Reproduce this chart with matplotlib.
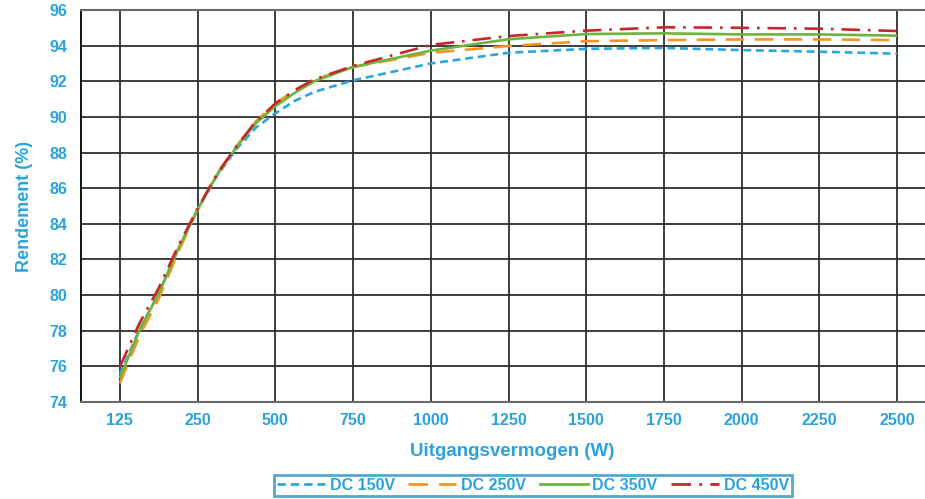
import matplotlib
matplotlib.use("Agg")
import matplotlib.pyplot as plt
from matplotlib.lines import Line2D

# ---- data ----
tick_labels = ["125", "250", "500", "750", "1000", "1250", "1500", "1750", "2000", "2250", "2500"]
# positions along the categorical axis (index units) where values were read
x_pos = [0, 0.25, 0.5, 0.75, 1, 1.25, 1.5, 1.75, 2, 2.25, 2.5, 3, 4, 5, 6, 7, 8, 9, 10]

dc150 = [75.55, 78.05, 80.1, 82.55, 84.8, 86.7, 88.2, 89.4, 90.2, 90.9, 91.4, 92.05, 93.0, 93.6, 93.82, 93.87, 93.75, 93.66, 93.55]
dc250 = [75.05, 77.7, 79.8, 82.4, 84.8, 86.8, 88.35, 89.75, 90.75, 91.5, 92.1, 92.8, 93.6, 93.98, 94.25, 94.31, 94.35, 94.35, 94.31]
dc350 = [75.35, 78.0, 80.1, 82.6, 84.8, 86.75, 88.3, 89.65, 90.6, 91.35, 92.0, 92.8, 93.72, 94.36, 94.65, 94.69, 94.63, 94.63, 94.56]
dc450 = [75.98, 78.4, 80.4, 82.75, 84.85, 86.8, 88.35, 89.75, 90.75, 91.5, 92.1, 92.86, 94.04, 94.54, 94.84, 95.03, 95.0, 94.95, 94.82]

series_names = ["DC 150V", "DC 250V", "DC 350V", "DC 450V"]
y_ticks = [74, 76, 78, 80, 82, 84, 86, 88, 90, 92, 94, 96]

# ---- styling ----
TXT = "#2aa3dc"
colors = ["#29a8e0", "#f7941d", "#6db33f", "#c8252c"]
styles = [(0, (3, 1.8)), (0, (7, 4)), "-", (0, (7, 3, 1, 3))]

plt.rcParams["font.family"] = ["Liberation Sans", "DejaVu Sans"]

fig = plt.figure(figsize=(9.25, 4.99), dpi=100)
ax = fig.add_axes([81 / 925, 1 - 402 / 499, (936 - 81) / 925, (402 - 10) / 499])

for vals, c, ls, name in zip([dc150, dc250, dc350, dc450], colors, styles, series_names):
    ax.plot(x_pos, vals, color=c, linestyle=ls, linewidth=1.9, label=name, zorder=3,
            solid_capstyle="butt", dash_capstyle="butt")

ax.set_xlim(-0.5, 10.5)
ax.set_ylim(74, 96)
ax.set_xticks(range(len(tick_labels)))
ax.set_xticklabels(tick_labels)
ax.set_yticks(y_ticks)
ax.set_yticklabels([str(v) for v in y_ticks])

ax.grid(True, color="#2e2e2e", linewidth=1.3)
ax.set_axisbelow(True)
for s in ["top", "right", "bottom"]:
    ax.spines[s].set_color("#6a6a6a")
    ax.spines[s].set_linewidth(1.5)
ax.spines["left"].set_color("black")
ax.spines["left"].set_linewidth(1.3)

ax.tick_params(axis="both", length=0, labelcolor=TXT, labelsize=11.5)
ax.tick_params(axis="x", pad=8)
ax.tick_params(axis="y", pad=10)
for lab in ax.get_xticklabels() + ax.get_yticklabels():
    lab.set_fontweight("bold")

ax.set_ylabel("Rendement (%)", color=TXT, fontsize=13, fontweight="bold", labelpad=12)
fig.text(512 / 925, 1 - 452 / 499, "Uitgangsvermogen (W)", color=TXT, fontsize=13.5,
         fontweight="bold", ha="center", va="center")

handles = [Line2D([0], [0], color=c, linestyle=ls, linewidth=2.0) for c, ls in zip(colors, styles)]
leg = fig.legend(handles, series_names, loc="center", bbox_to_anchor=(533 / 925, 1 - 485.5 / 499),
                 ncol=4, frameon=True, fancybox=False, fontsize=11.5, handlelength=3.0,
                 handletextpad=0.3, columnspacing=0.85, borderpad=0.2, borderaxespad=0)
leg.get_frame().set_edgecolor("#2a8fc4")
leg.get_frame().set_linewidth(2.0)
for t in leg.get_texts():
    t.set_color(TXT)
    t.set_fontweight("bold")

fig.savefig("out.png", dpi=100)
